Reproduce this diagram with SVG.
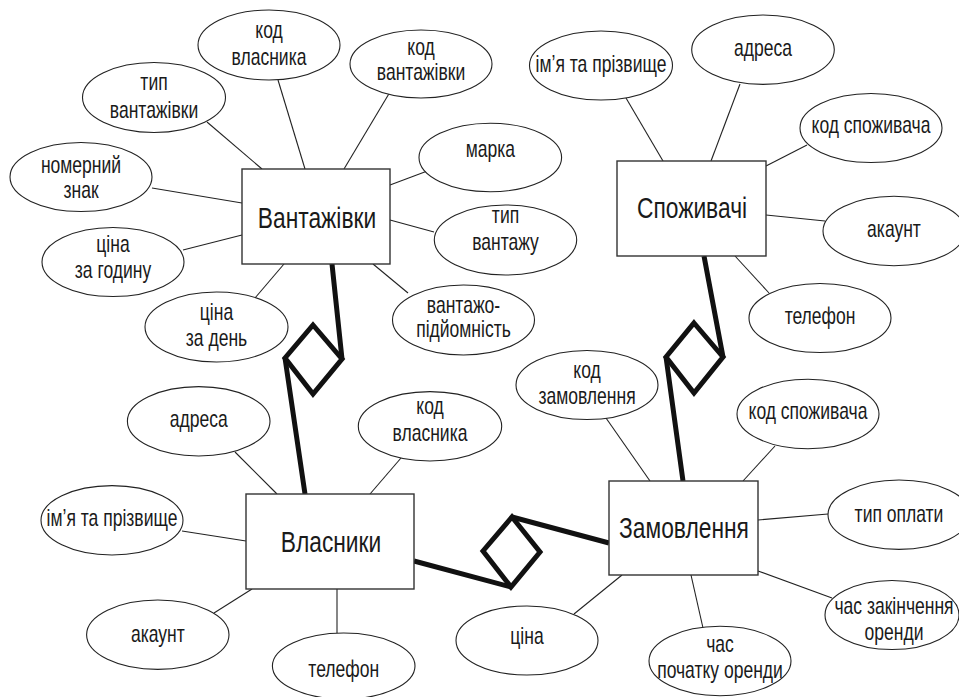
<svg xmlns="http://www.w3.org/2000/svg" width="959" height="697" viewBox="0 0 959 697">
<style>
.bg{fill:#ffffff}
.ent{fill:#ffffff;stroke:#333333;stroke-width:1.4}
.att{fill:#ffffff;stroke:#222222;stroke-width:1.1}
.ln{stroke:#222222;stroke-width:1.1;fill:none}
.rel{stroke:#111111;stroke-width:5;fill:none;stroke-linejoin:miter;stroke-miterlimit:4}
.t{font-family:'Liberation Sans',Arial,sans-serif;font-size:24px;text-anchor:middle;fill:#1a1a1a}
.h{font-family:'Liberation Sans',Arial,sans-serif;font-size:30px;text-anchor:middle;fill:#1a1a1a}
</style>
<rect class="bg" x="0" y="0" width="959" height="697"/>
<g id="connectors">
<line class="ln" x1="278" y1="80" x2="305" y2="169"/>
<line class="ln" x1="390" y1="92" x2="344" y2="169"/>
<line class="ln" x1="207" y1="122" x2="262" y2="169"/>
<line class="ln" x1="152" y1="188" x2="242" y2="203"/>
<line class="ln" x1="183" y1="250" x2="242" y2="235"/>
<line class="ln" x1="255" y1="298" x2="284" y2="264"/>
<line class="ln" x1="430" y1="170" x2="390" y2="185"/>
<line class="ln" x1="434" y1="232" x2="390" y2="220"/>
<line class="ln" x1="408" y1="293" x2="373" y2="264"/>
<line class="ln" x1="626" y1="98" x2="663" y2="161"/>
<line class="ln" x1="740" y1="84" x2="711" y2="161"/>
<line class="ln" x1="807" y1="145" x2="766" y2="166"/>
<line class="ln" x1="766" y1="215" x2="825" y2="221"/>
<line class="ln" x1="735" y1="256" x2="769" y2="293"/>
<line class="ln" x1="235" y1="452" x2="277" y2="494"/>
<line class="ln" x1="401" y1="458" x2="370" y2="494"/>
<line class="ln" x1="182" y1="531" x2="246" y2="541"/>
<line class="ln" x1="214" y1="613" x2="252" y2="589"/>
<line class="ln" x1="337" y1="589" x2="337" y2="633"/>
<line class="ln" x1="606" y1="418" x2="650" y2="481"/>
<line class="ln" x1="775" y1="446" x2="743" y2="481"/>
<line class="ln" x1="758" y1="520" x2="828" y2="514"/>
<line class="ln" x1="758" y1="571" x2="832" y2="598"/>
<line class="ln" x1="691" y1="575" x2="703" y2="628"/>
<line class="ln" x1="622" y1="575" x2="574" y2="614"/>
<path class="rel" d="M332,264 L342,359 M285,358 L305,494"/>
<path class="rel" d="M704,256 L723,357 M666,357 L683,481"/>
<path class="rel" d="M414,561 L511,587 M512,517 L609,543"/>
</g>
<g id="rel-vantazhivky-vlasnyky"><polygon class="rel" points="313,325 342,359 313,394 285,358"/></g>
<g id="rel-spozhyvachi-zamovlennia"><polygon class="rel" points="694,323 723,357 694,393 666,357"/></g>
<g id="rel-vlasnyky-zamovlennia"><polygon class="rel" points="512,517 540,552 511,587 483,551"/></g>

<g id="vantazhivky"><rect class="ent" x="242" y="169" width="148" height="95"/><text class="h" transform="translate(317,228) scale(0.76,1)">Вантажівки</text></g>
<g id="spozhyvachi"><rect class="ent" x="617" y="161" width="149" height="95"/><text class="h" transform="translate(692,218) scale(0.76,1)">Споживачі</text></g>
<g id="vlasnyky"><rect class="ent" x="246" y="494" width="168" height="95"/><text class="h" transform="translate(331,552) scale(0.76,1)">Власники</text></g>
<g id="zamovlennia"><rect class="ent" x="609" y="481" width="149" height="94"/><text class="h" transform="translate(684,538) scale(0.76,1)">Замовлення</text></g>

<g id="v-kod-vlasnyka"><ellipse class="att" cx="269" cy="45" rx="71" ry="35"/><text class="t" transform="translate(269,0) scale(0.73,1)"><tspan x="0" y="38">код</tspan><tspan x="0" y="65">власника</tspan></text></g>
<g id="v-kod-vantazhivky"><ellipse class="att" cx="421" cy="64" rx="71" ry="34"/><text class="t" transform="translate(421,0) scale(0.73,1)"><tspan x="0" y="55">код</tspan><tspan x="0" y="80">вантажівки</tspan></text></g>
<g id="v-typ-vantazhivky"><ellipse class="att" cx="154" cy="97.5" rx="71.5" ry="35"/><text class="t" transform="translate(154,0) scale(0.73,1)"><tspan x="0" y="90">тип</tspan><tspan x="0" y="118">вантажівки</tspan></text></g>
<g id="v-nomernyi-znak"><ellipse class="att" cx="81" cy="177" rx="71" ry="34.5"/><text class="t" transform="translate(81,0) scale(0.73,1)"><tspan x="0" y="173">номерний</tspan><tspan x="0" y="198">знак</tspan></text></g>
<g id="v-tsina-hodyna"><ellipse class="att" cx="113" cy="262" rx="71" ry="34.5"/><text class="t" transform="translate(113,0) scale(0.73,1)"><tspan x="0" y="252">ціна</tspan><tspan x="0" y="278">за годину</tspan></text></g>
<g id="v-tsina-den"><ellipse class="att" cx="216.5" cy="327" rx="71.5" ry="35"/><text class="t" transform="translate(216.5,0) scale(0.73,1)"><tspan x="0" y="320">ціна</tspan><tspan x="0" y="346">за день</tspan></text></g>
<g id="v-marka"><ellipse class="att" cx="490.3" cy="157.5" rx="71.3" ry="34.2"/><text class="t" transform="translate(490.3,157) scale(0.73,1)">марка</text></g>
<g id="v-typ-vantazhu"><ellipse class="att" cx="505.5" cy="240" rx="71.2" ry="35"/><text class="t" transform="translate(505.5,0) scale(0.73,1)"><tspan x="0" y="223">тип</tspan><tspan x="0" y="250">вантажу</tspan></text></g>
<g id="v-pidiomnist"><ellipse class="att" cx="463.5" cy="320" rx="71" ry="35"/><text class="t" transform="translate(463.5,0) scale(0.73,1)"><tspan x="0" y="313">вантажо-</tspan><tspan x="0" y="337">підйомність</tspan></text></g>

<g id="s-imia"><ellipse class="att" cx="601" cy="65.5" rx="71.5" ry="34.5"/><text class="t" transform="translate(601,72) scale(0.73,1)">ім’я та прізвище</text></g>
<g id="s-adresa"><ellipse class="att" cx="763" cy="49.7" rx="71.3" ry="34.7"/><text class="t" transform="translate(763,56) scale(0.73,1)">адреса</text></g>
<g id="s-kod-spozhyvacha"><ellipse class="att" cx="871" cy="128" rx="71" ry="34.5"/><text class="t" transform="translate(871,133) scale(0.73,1)">код споживача</text></g>
<g id="s-akaunt"><ellipse class="att" cx="894" cy="231" rx="71" ry="34.7"/><text class="t" transform="translate(894,237) scale(0.73,1)">акаунт</text></g>
<g id="s-telefon"><ellipse class="att" cx="820" cy="318" rx="71" ry="34.5"/><text class="t" transform="translate(820,324) scale(0.73,1)">телефон</text></g>

<g id="o-adresa"><ellipse class="att" cx="198.7" cy="421.3" rx="71.3" ry="34.7"/><text class="t" transform="translate(198.7,427) scale(0.73,1)">адреса</text></g>
<g id="o-kod-vlasnyka"><ellipse class="att" cx="430" cy="426.3" rx="71.7" ry="34.7"/><text class="t" transform="translate(430,0) scale(0.73,1)"><tspan x="0" y="414">код</tspan><tspan x="0" y="441">власника</tspan></text></g>
<g id="o-imia"><ellipse class="att" cx="112" cy="520.3" rx="71" ry="34.7"/><text class="t" transform="translate(112,526) scale(0.73,1)">ім’я та прізвище</text></g>
<g id="o-akaunt"><ellipse class="att" cx="157.8" cy="634.7" rx="71.2" ry="34.7"/><text class="t" transform="translate(157.8,642) scale(0.73,1)">акаунт</text></g>
<g id="o-telefon"><ellipse class="att" cx="343.7" cy="666" rx="71.3" ry="33"/><text class="t" transform="translate(343.7,677) scale(0.73,1)">телефон</text></g>

<g id="z-kod-zamovlennia"><ellipse class="att" cx="587" cy="385" rx="71" ry="34.5"/><text class="t" transform="translate(587,0) scale(0.73,1)"><tspan x="0" y="378">код</tspan><tspan x="0" y="404">замовлення</tspan></text></g>
<g id="z-kod-spozhyvacha"><ellipse class="att" cx="808" cy="414" rx="71" ry="34.8"/><text class="t" transform="translate(808,419) scale(0.73,1)">код споживача</text></g>
<g id="z-typ-oplaty"><ellipse class="att" cx="899" cy="514.7" rx="71" ry="34.7"/><text class="t" transform="translate(899,522) scale(0.73,1)">тип оплати</text></g>
<g id="z-chas-kinets"><ellipse class="att" cx="892" cy="615" rx="67" ry="34.5"/><text class="t" transform="translate(894,0) scale(0.73,1)"><tspan x="0" y="614">час закінчення</tspan><tspan x="0" y="640">оренди</tspan></text></g>
<g id="z-chas-pochatok"><ellipse class="att" cx="720" cy="661" rx="71" ry="34.7"/><text class="t" transform="translate(720,0) scale(0.73,1)"><tspan x="0" y="652">час</tspan><tspan x="0" y="678">початку оренди</tspan></text></g>
<g id="z-tsina"><ellipse class="att" cx="527" cy="640.5" rx="71" ry="34.5"/><text class="t" transform="translate(527,644) scale(0.73,1)">ціна</text></g>
</svg>
